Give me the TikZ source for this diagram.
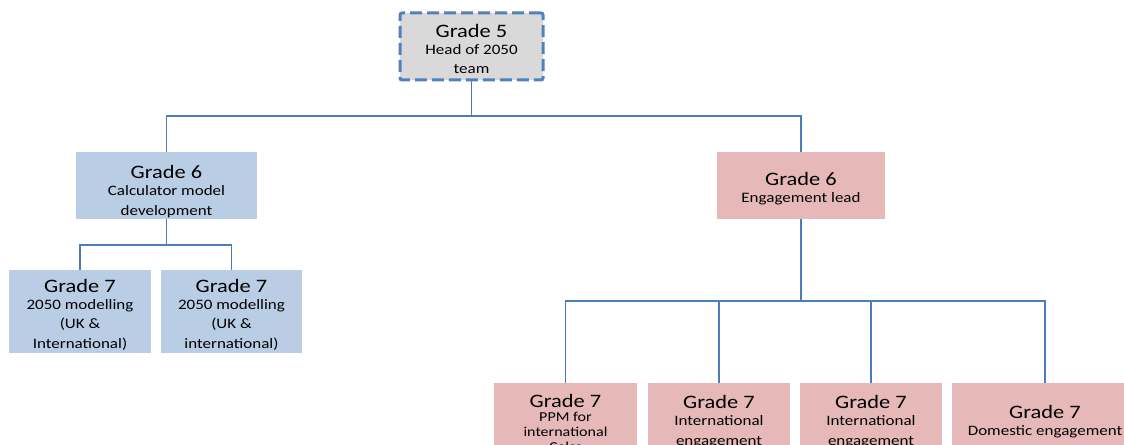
\documentclass[tikz,border=0pt]{standalone}
\usepackage{fontspec}
\setmainfont{Carlito}[FakeStretch=1.18]
\newcommand\gtfont{\fontsize{14.25}{15}\selectfont}
\newcommand\stfont{\fontsize{10.8}{14.5}\selectfont}
\newcommand\smfont{\fontsize{10.2}{11}\selectfont}
\newcommand\lowerstrut[1]{\begingroup\gtfont\raisebox{#1}{\vphantom{Gd}}\endgroup}
\definecolor{greyfill}{HTML}{D9D9D9}
\definecolor{bluefill}{HTML}{B9CDE5}
\definecolor{pinkfill}{HTML}{E6B9B8}
\definecolor{dashblue}{HTML}{4F81BD}
\definecolor{linkblue}{HTML}{4A7EBB}
\tikzset{
  box/.style={inner sep=0pt, align=center, font=\stfont, text=black},
  greybox/.style={box, fill=greyfill, draw=dashblue, line width=2.25pt,
    dash pattern=on 9pt off 3.75pt, rounded corners=1.5pt},
  bluebox/.style={box, fill=bluefill},
  pinkbox/.style={box, fill=pinkfill},
  link/.style={draw=linkblue, line width=1pt}
}
\begin{document}
\begin{tikzpicture}[x=0.75pt,y=-0.75pt]
\useasboundingbox (0,0) rectangle (1124,445);
\clip (0,0) rectangle (1124,445);

\node[greybox, minimum width=107.25pt, minimum height=50.25pt] (top) at (471.5,46.5)
  {\lowerstrut{3.75pt}{\gtfont Grade 5}\\[-1.5pt]Head of 2050\\team};

\node[bluebox, minimum width=135.75pt, minimum height=50.25pt] (lg6) at (166.5,185.5)
  {\lowerstrut{9pt}{\gtfont Grade 6}\\[-1.5pt]Calculator model\\development};
\node[pinkbox, minimum width=126pt, minimum height=50.25pt] (rg6) at (801,185.5)
  {\lowerstrut{4.5pt}{\gtfont Grade 6}\\[-1.5pt]Engagement lead};

\node[bluebox, minimum width=106.5pt, minimum height=62.25pt] (la) at (80,311.5)
  {\lowerstrut{4.5pt}{\gtfont Grade 7}\\[-1.5pt]2050 modelling\\(UK \&\\International)};
\node[bluebox, minimum width=105.75pt, minimum height=62.25pt] (lb) at (231.5,311.5)
  {\lowerstrut{4.5pt}{\gtfont Grade 7}\\[-1.5pt]2050 modelling\\(UK \&\\international)};

\node[pinkbox, font=\smfont, minimum width=107.25pt, minimum height=56.25pt] (b1) at (565.5,420.5)
  {\lowerstrut{3pt}{\gtfont Grade 7}\\PPM for\\international\\Calcs};
\node[pinkbox, minimum width=106.5pt, minimum height=56.25pt] (b2) at (719,420.5)
  {\lowerstrut{1.5pt}{\gtfont Grade 7}\\[-1.5pt]International\\engagement};
\node[pinkbox, minimum width=106.5pt, minimum height=56.25pt] (b3) at (871,420.5)
  {\lowerstrut{1.5pt}{\gtfont Grade 7}\\[-1.5pt]International\\engagement};
\node[pinkbox, minimum width=139.5pt, minimum height=56.25pt] (b4) at (1045,420.5)
  {\lowerstrut{1.5pt}{\gtfont Grade 7}\\[-1.5pt]Domestic engagement};

\coordinate (bus1) at (471.5,116);
\coordinate (bus2) at (166.5,245);
\coordinate (bus3) at (801,301);

\draw[link] (top) -- (bus1);
\draw[link] (bus1) -| (lg6);
\draw[link] (bus1) -| (rg6);

\draw[link] (lg6) -- (bus2);
\draw[link] (bus2) -| (la);
\draw[link] (bus2) -| (lb);

\draw[link] (rg6) -- (bus3);
\draw[link] (bus3) -| (b1);
\draw[link] (bus3) -| (b2);
\draw[link] (bus3) -| (b3);
\draw[link] (bus3) -| (b4);
\end{tikzpicture}
\end{document}
